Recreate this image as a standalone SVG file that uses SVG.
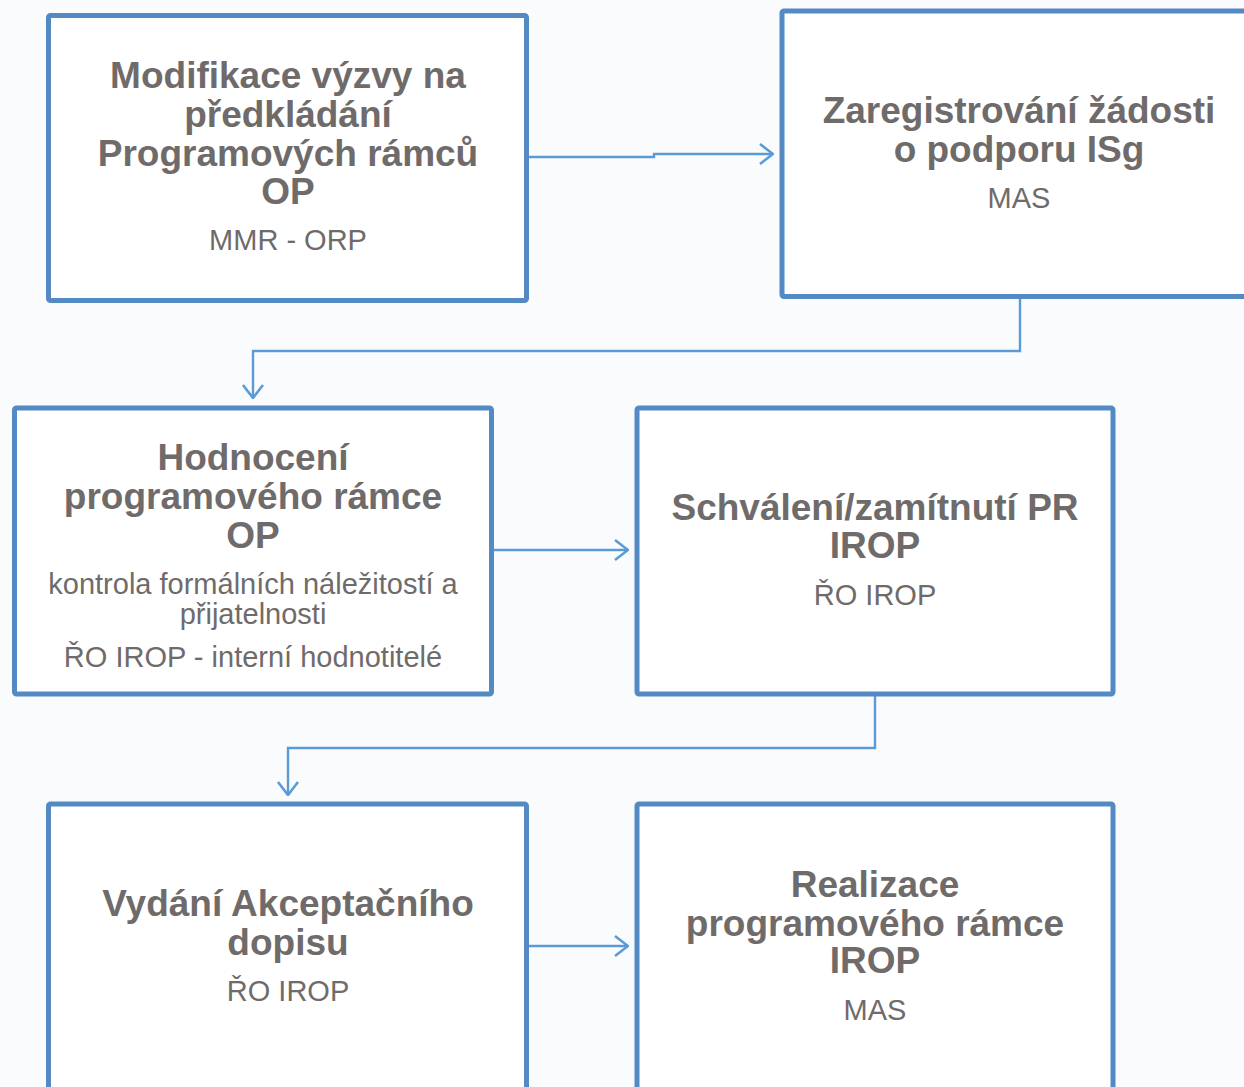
<svg xmlns="http://www.w3.org/2000/svg" width="1244" height="1087" viewBox="0 0 1244 1087">
<defs>
<style>
.box{fill:#FFFFFF;stroke:#548AC4;stroke-width:5}
.t{font-family:"Liberation Sans",Arial,sans-serif;font-weight:bold;font-size:37px;fill:#6F6B6A;text-anchor:middle}
.s{font-family:"Liberation Sans",Arial,sans-serif;font-size:29px;fill:#6F6B6A;text-anchor:middle}
.c{fill:none;stroke:#5B9BD5;stroke-width:2.4}
</style>
<marker id="arr" viewBox="0 0 16 24" refX="15" refY="12" markerWidth="16" markerHeight="24" markerUnits="userSpaceOnUse" orient="auto">
<path d="M2,2 L15,12 L2,22" fill="none" stroke="#5B9BD5" stroke-width="2.6"/>
</marker>
</defs>
<rect width="1244" height="1087" fill="#FAFBFC"/>
<g id="connectors">
<path class="c" d="M528,157 H654 V154 H773" marker-end="url(#arr)"/>
<path class="c" d="M1020,298 V351 H253 V398" marker-end="url(#arr)"/>
<path class="c" d="M492,550 H628" marker-end="url(#arr)"/>
<path class="c" d="M875,694 V748 H288 V795" marker-end="url(#arr)"/>
<path class="c" d="M527,946 H628" marker-end="url(#arr)"/>
</g>
<g id="n1">
<rect class="box" x="48.5" y="15.5" width="478" height="285" rx="2"/>
<text class="t" x="288" y="88">Modifikace výzvy na</text>
<text class="t" x="288" y="127">předkládání</text>
<text class="t" x="288" y="166">Programových rámců</text>
<text class="t" x="288" y="204">OP</text>
<text class="s" x="288" y="250">MMR - ORP</text>
</g>
<g id="n2">
<rect class="box" x="782" y="11" width="480" height="285.5" rx="2"/>
<text class="t" x="1019" y="123">Zaregistrování žádosti</text>
<text class="t" x="1019" y="162">o podporu ISg</text>
<text class="s" x="1019" y="208">MAS</text>
</g>
<g id="n3">
<rect class="box" x="14.5" y="408" width="477" height="286" rx="2"/>
<text class="t" x="253" y="470">Hodnocení</text>
<text class="t" x="253" y="509">programového rámce</text>
<text class="t" x="253" y="548">OP</text>
<text class="s" x="253" y="594">kontrola formálních náležitostí a</text>
<text class="s" x="253" y="624">přijatelnosti</text>
<text class="s" x="253" y="667">ŘO IROP - interní hodnotitelé</text>
</g>
<g id="n4">
<rect class="box" x="637" y="408" width="476" height="286" rx="2"/>
<text class="t" x="875" y="520">Schválení/zamítnutí PR</text>
<text class="t" x="875" y="558">IROP</text>
<text class="s" x="875" y="605">ŘO IROP</text>
</g>
<g id="n5">
<rect class="box" x="48.5" y="804" width="478" height="300" rx="2"/>
<text class="t" x="288" y="916">Vydání Akceptačního</text>
<text class="t" x="288" y="955">dopisu</text>
<text class="s" x="288" y="1001">ŘO IROP</text>
</g>
<g id="n6">
<rect class="box" x="637" y="804" width="476" height="300" rx="2"/>
<text class="t" x="875" y="897">Realizace</text>
<text class="t" x="875" y="936">programového rámce</text>
<text class="t" x="875" y="973">IROP</text>
<text class="s" x="875" y="1020">MAS</text>
</g>
</svg>
